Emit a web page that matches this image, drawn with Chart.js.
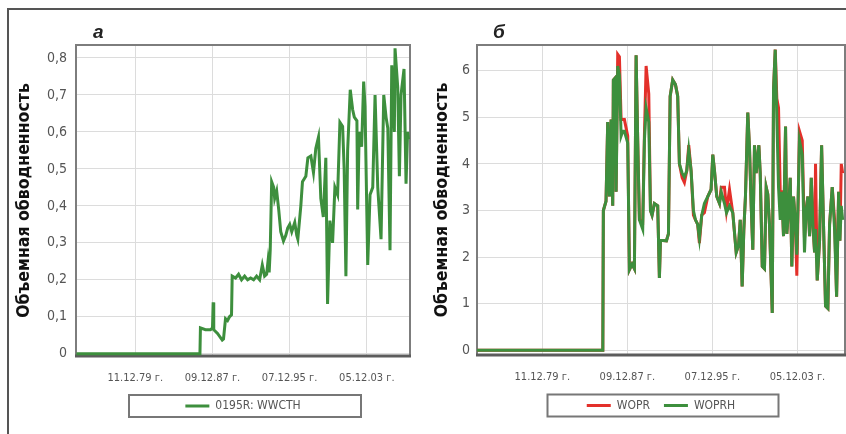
<!DOCTYPE html>
<html lang="ru">
<head>
<meta charset="utf-8">
<title>Объемная обводненность</title>
<script src="https://cdn.jsdelivr.net/npm/chart.js@4.4.1/dist/chart.umd.min.js"></script>
<style>
  html, body { margin: 0; padding: 0; background: #fff; }
  #sheet { position: relative; width: 846px; height: 434px; overflow: hidden; }
  #frame { position: absolute; left: 7px; top: 8px; right: -10px; bottom: -10px;
           border-left: 2px solid #555; border-top: 2px solid #555; }
  canvas { position: absolute; top: 0; }
  #chartA { left: 0; }
  #chartB { left: 420px; }
  .tag { position: absolute; top: 21px; line-height: 19px; color: #222;
         font: italic bold 19px "Liberation Sans", Arial, sans-serif; }
</style>
</head>
<body>
<div id="sheet">
  <div id="frame"></div>
  <canvas id="chartA" width="420" height="434"></canvas>
  <canvas id="chartB" width="426" height="434"></canvas>
  <span class="tag" style="left:93px">а</span>
  <span class="tag" style="left:493px">б</span>
</div>
<script>
// x axis: decimal years, ticks every 8 years (2920 days)
const xMin = 1973.8;
const xMax = 2008.4;
const xTickYears = [1979.94, 1987.94, 1995.93, 2003.93];
const xTickLabels = ['11.12.79 г.', '09.12.87 г.', '07.12.95 г.', '05.12.03 г.'];

// well 0195R, water cut (WWCTH)
const yearsA = [1973.85, 1986.64, 1986.69, 1987.21, 1987.73, 1987.94, 1988.01, 1988.07, 1988.46, 1988.95,
  1989.08, 1989.29, 1989.5, 1989.7, 1989.91, 1989.98, 1990.33, 1990.64, 1990.95, 1991.27,
  1991.58, 1991.89, 1992.2, 1992.51, 1992.82, 1993.1, 1993.34, 1993.55, 1993.69, 1993.81,
  1993.92, 1994.07, 1994.28, 1994.38, 1994.59, 1994.8, 1995.01, 1995.29, 1995.53, 1995.73,
  1995.94, 1996.15, 1996.46, 1996.67, 1996.78, 1997.09, 1997.26, 1997.61, 1997.82, 1998.13,
  1998.4, 1998.64, 1998.92, 1999.16, 1999.42, 1999.68, 1999.86, 2000.1, 2000.38, 2000.62,
  2000.9, 2001.14, 2001.42, 2001.58, 2001.76, 2001.94, 2002.21, 2002.46, 2002.63, 2002.9,
  2002.98, 2003.14, 2003.39, 2003.6, 2003.74, 2004.02, 2004.26, 2004.54, 2004.78, 2005.06,
  2005.4, 2005.68, 2005.92, 2006.1, 2006.33, 2006.51, 2006.78, 2006.85, 2007.13, 2007.3,
  2007.47, 2007.78, 2007.99, 2008.15, 2008.25];
const wwcth = [0, 0, 0.07, 0.065, 0.065, 0.07, 0.139, 0.065, 0.055, 0.037,
  0.04, 0.095, 0.09, 0.1, 0.105, 0.21, 0.205, 0.215, 0.2, 0.21,
  0.2, 0.205, 0.2, 0.21, 0.2, 0.24, 0.21, 0.215, 0.25, 0.22,
  0.28, 0.465, 0.45, 0.42, 0.44, 0.39, 0.33, 0.305, 0.32, 0.34,
  0.35, 0.33, 0.355, 0.32, 0.31, 0.4, 0.465, 0.48, 0.53, 0.535,
  0.49, 0.555, 0.586, 0.42, 0.37, 0.53, 0.135, 0.36, 0.3, 0.45,
  0.43, 0.626, 0.615, 0.5, 0.21, 0.55, 0.714, 0.66, 0.64, 0.63,
  0.39, 0.6, 0.56, 0.736, 0.67, 0.24, 0.43, 0.45, 0.7, 0.45,
  0.31, 0.7, 0.64, 0.61, 0.28, 0.78, 0.6, 0.826, 0.72, 0.48,
  0.7, 0.77, 0.46, 0.6, 0.58];
const yTicksA = [0, 0.05, 0.1, 0.15, 0.2, 0.25, 0.3, 0.35, 0.4, 0.45, 0.5, 0.55, 0.6, 0.65, 0.7, 0.75, 0.8];
const yLabelsA = ['0', '', '0,1', '', '0,2', '', '0,3', '', '0,4', '', '0,5', '', '0,6', '', '0,7', '', '0,8'];

// oil rate: simulated (WOPR) and history (WOPRH)
const yearsB = [1973.8, 1985.63, 1985.68, 1985.93, 1986.09, 1986.25, 1986.41, 1986.56, 1986.62, 1986.81,
  1986.88, 1987.03, 1987.19, 1987.35, 1987.5, 1987.66, 1987.97, 1988.13, 1988.38, 1988.6,
  1988.76, 1988.91, 1989.07, 1989.38, 1989.54, 1989.7, 1989.95, 1990.11, 1990.26, 1990.48,
  1990.79, 1990.95, 1991.05, 1991.61, 1991.8, 1991.96, 1992.2, 1992.46, 1992.67, 1992.83,
  1993.09, 1993.3, 1993.52, 1993.71, 1993.93, 1994.15, 1994.34, 1994.55, 1994.71, 1994.93,
  1995.18, 1995.5, 1995.81, 1995.97, 1996.13, 1996.34, 1996.6, 1996.76, 1997.07, 1997.26,
  1997.54, 1997.85, 1998.17, 1998.39, 1998.55, 1998.73, 1998.89, 1999.04, 1999.26, 1999.42,
  1999.58, 1999.73, 1999.89, 2000.05, 2000.3, 2000.43, 2000.62, 2000.83, 2000.99, 2001.14,
  2001.3, 2001.56, 2001.68, 2001.84, 2001.99, 2002.15, 2002.31, 2002.46, 2002.62, 2002.81,
  2002.93, 2003.09, 2003.25, 2003.4, 2003.56, 2003.72, 2003.87, 2004.12, 2004.38, 2004.59,
  2004.75, 2004.91, 2005.07, 2005.23, 2005.38, 2005.54, 2005.63, 2005.79, 2006.01, 2006.2,
  2006.39, 2006.57, 2006.79, 2006.95, 2007.2, 2007.42, 2007.61, 2007.8, 2007.92, 2008.05,
  2008.18];
const woprh = [0, 0, 3.0, 3.2, 4.9, 3.3, 4.95, 3.1, 5.8, 5.85,
  3.4, 6.1, 5.9, 4.6, 4.7, 4.7, 4.45, 1.73, 1.85, 1.75,
  6.33, 4.5, 2.8, 2.6, 4.5, 5.2, 4.9, 3.0, 2.9, 3.15,
  3.1, 1.55, 2.36, 2.35, 2.5, 5.45, 5.8, 5.7, 5.45, 4.0,
  3.8, 3.72, 3.85, 4.3, 3.85, 3.0, 2.8, 2.7, 2.4, 2.9,
  3.15, 3.3, 3.45, 4.2, 3.85, 3.3, 3.15, 3.4, 3.15, 2.95,
  3.1, 2.95, 2.1, 2.25, 2.8, 1.37, 2.6, 3.3, 5.1, 4.35,
  3.1, 2.16, 4.4, 3.8, 4.4, 3.8, 1.8, 1.75, 3.5, 3.35,
  2.7, 0.8, 5.6, 6.45, 5.0, 3.5, 2.8, 3.4, 2.45, 4.8,
  2.5, 3.0, 3.7, 1.8, 3.3, 2.8, 2.05, 4.5, 4.2, 2.1,
  3.0, 3.3, 2.45, 3.7, 2.7, 2.1, 2.6, 1.5, 2.35, 4.4,
  2.6, 0.95, 0.9, 2.7, 3.5, 2.6, 1.15, 3.4, 2.35, 3.1,
  2.8];
const wopr = [0, 0, 3.0, 3.2, 4.9, 3.3, 4.95, 3.1, 5.8, 5.85,
  3.4, 6.35, 6.3, 4.95, 4.95, 4.95, 4.6, 1.73, 1.85, 1.75,
  6.33, 4.5, 2.8, 2.75, 4.6, 6.1, 5.5, 3.0, 2.9, 3.15,
  3.1, 1.55, 2.36, 2.35, 2.5, 5.45, 5.8, 5.7, 5.45, 4.0,
  3.7, 3.6, 3.85, 4.4, 3.85, 2.9, 2.8, 2.7, 2.3, 2.9,
  2.95, 3.3, 3.45, 4.2, 3.85, 3.3, 3.15, 3.5, 3.5, 3.0,
  3.45, 2.95, 2.1, 2.25, 2.8, 1.37, 2.6, 3.3, 5.1, 4.35,
  3.1, 2.16, 4.4, 3.8, 4.4, 3.8, 1.8, 1.75, 3.5, 3.35,
  2.7, 0.8, 5.6, 6.45, 5.4, 5.2, 3.4, 3.4, 2.45, 4.8,
  2.5, 3.0, 3.7, 1.8, 3.3, 2.8, 1.6, 4.7, 4.5, 2.4,
  3.0, 3.3, 2.45, 3.7, 2.7, 2.1, 4.0, 1.5, 2.35, 4.4,
  2.6, 0.95, 0.9, 2.7, 3.5, 2.8, 1.15, 3.4, 2.35, 4.0,
  3.8];
const yTicksB = [0, 1, 2, 3, 4, 5, 6];
const yLabelsB = ['0', '1', '2', '3', '4', '5', '6'];

const NARROW = '"DejaVu Sans Condensed", "Liberation Sans", sans-serif';
const GREEN = '#3d8f3d';
const RED = '#e3302a';

const toPoints = (xs, ys) => xs.map((x, i) => ({ x, y: ys[i] }));

// plot border + boxed legend
const plotFrame = {
  id: 'plotFrame',
  beforeDatasetsDraw(chart) {
    const { ctx, chartArea: a } = chart;
    ctx.save();
    ctx.strokeStyle = '#7d7d7d';
    ctx.lineWidth = 2;
    ctx.strokeRect(a.left, a.top, a.right - a.left, a.bottom - a.top);
    ctx.strokeStyle = '#5c5c5c';
    ctx.lineWidth = 3;
    ctx.beginPath();
    ctx.moveTo(a.left - 1, a.bottom);
    ctx.lineTo(a.right + 1, a.bottom);
    ctx.stroke();
    ctx.restore();
  },
  afterDraw(chart, args, opts) {
    const { ctx, chartArea: a } = chart;
    const hb = chart.legend.legendHitBoxes[0];
    const cy = hb.top + hb.height / 2;
    const cx = (a.left + a.right) / 2 + opts.shift;
    ctx.save();
    ctx.strokeStyle = '#777';
    ctx.lineWidth = 2;
    ctx.strokeRect(cx - opts.width / 2, cy - 11, opts.width, 22);
    ctx.restore();
  }
};

function panelOptions(cfg) {
  return {
    responsive: false,
    animation: false,
    layout: { padding: cfg.padding },
    elements: { point: { radius: 0 }, line: { tension: 0 } },
    scales: {
      x: {
        type: 'linear',
        min: xMin,
        max: xMax,
        grid: { color: '#dcdcdc', drawTicks: false },
        border: { display: false },
        afterBuildTicks: s => { s.ticks = xTickYears.map(v => ({ value: v })); },
        afterFit: s => { s.height = cfg.xAxisHeight; },
        ticks: {
          autoSkip: false, maxRotation: 0, padding: 16, color: '#555',
          font: { family: NARROW, size: 11 },
          callback: (v, i) => xTickLabels[i]
        }
      },
      y: {
        min: cfg.yMin,
        max: cfg.yMax,
        grid: { color: '#dcdcdc', drawTicks: false },
        border: { display: false },
        afterBuildTicks: s => { s.ticks = cfg.yTicks.map(v => ({ value: v })); },
        afterFit: s => { s.width = cfg.yAxisWidth; },
        ticks: {
          padding: cfg.yTickPad, color: '#555',
          font: { family: NARROW, size: 14 },
          callback: (v, i) => cfg.yLabels[i]
        },
        title: {
          display: true, text: 'Объемная обводненность', color: '#111', padding: 0,
          font: { family: NARROW, size: 17.5, weight: 'bold' }
        }
      }
    },
    plugins: {
      legend: {
        position: 'bottom',
        fullSize: false,
        labels: {
          usePointStyle: true, pointStyle: 'line', pointStyleWidth: 24,
          padding: 14, color: '#555', font: { family: NARROW, size: 12 },
          sort: (a, b) => b.datasetIndex - a.datasetIndex
        }
      },
      tooltip: { enabled: false },
      plotFrame: { width: cfg.boxWidth, shift: 2 }
    }
  };
}

new Chart(document.getElementById('chartA'), {
  type: 'line',
  data: {
    datasets: [{
      label: '0195R: WWCTH',
      data: toPoints(yearsA, wwcth),
      borderColor: GREEN,
      backgroundColor: GREEN,
      borderWidth: 3
    }]
  },
  options: panelOptions({
    padding: { left: 14, right: 10, top: 45, bottom: 12 },
    xAxisHeight: 30, yAxisWidth: 62, yTickPad: 9,
    yMin: -0.006, yMax: 0.835, yTicks: yTicksA, yLabels: yLabelsA,
    boxWidth: 232
  }),
  plugins: [plotFrame]
});

// WOPRH is dataset 0 so it is drawn over WOPR; legend order is reversed back
new Chart(document.getElementById('chartB'), {
  type: 'line',
  data: {
    datasets: [{
      label: 'WOPRH',
      data: toPoints(yearsB, woprh),
      borderColor: GREEN,
      backgroundColor: GREEN,
      borderWidth: 3
    }, {
      label: 'WOPR',
      data: toPoints(yearsB, wopr),
      borderColor: RED,
      backgroundColor: RED,
      borderWidth: 3
    }]
  },
  options: panelOptions({
    padding: { left: 12, right: 1, top: 45, bottom: 12.5 },
    xAxisHeight: 30.5, yAxisWidth: 45, yTickPad: 7,
    yMin: -0.1, yMax: 6.55, yTicks: yTicksB, yLabels: yLabelsB,
    boxWidth: 231
  }),
  plugins: [plotFrame]
});
</script>
</body>
</html>
